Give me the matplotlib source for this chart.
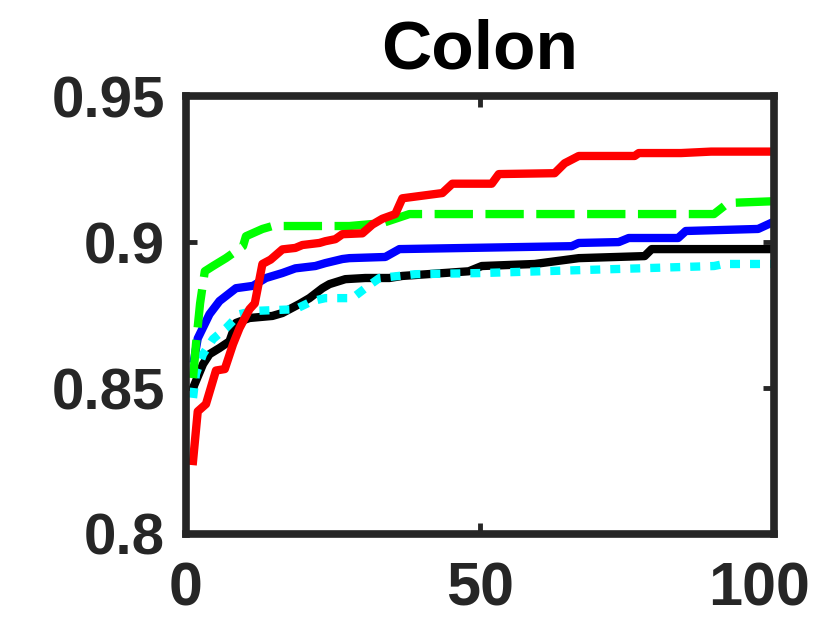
import matplotlib
matplotlib.use("Agg")
import matplotlib.pyplot as plt
import matplotlib.transforms as mtransforms

title = "Colon"
xticks = [0, 50, 100]
yticks = [0.8, 0.85, 0.9, 0.95]
ytick_labels = ["0.8", "0.85", "0.9", "0.95"]

red_x = [1.2, 2, 3.4, 5.1, 6.6, 8, 9.1, 10.8, 11.7, 13, 14.4, 16.4, 18.6, 19.8, 22.7, 23.7, 25.4, 26.6,
         30, 31.7, 33.4, 35.6, 36.8, 43.6, 45.3, 52, 53.2, 62.7, 64.4, 66.8, 76.3, 77, 84.2, 89.3, 100]
red_y = [0.825, 0.842, 0.8445, 0.856, 0.8565, 0.865, 0.8705, 0.877, 0.879, 0.8925, 0.894, 0.8975, 0.898,
         0.899, 0.8997, 0.9003, 0.901, 0.9027, 0.903, 0.906, 0.908, 0.9096, 0.915, 0.9168, 0.920, 0.920,
         0.9233, 0.9236, 0.927, 0.9295, 0.9295, 0.9305, 0.9305, 0.931, 0.931]

green_x = [1.2, 1.7, 2.4, 3.2, 4.6, 6.8, 9.7, 10.2, 13, 14.7, 27.8, 33.4, 38, 89.8, 92.2, 100]
green_y = [0.8534, 0.865, 0.879, 0.890, 0.8918, 0.8945, 0.8986, 0.902, 0.9045, 0.9055, 0.9055, 0.9065,
           0.9096, 0.9096, 0.9134, 0.914]

blue_x = [1.4, 2, 4, 5.7, 8.5, 11.4, 13.6, 16.4, 18.6, 22, 23.7, 26.6, 27.8, 33.9, 36.3, 65.6, 66.8,
          73.6, 75.3, 83.7, 85, 97.3, 100]
blue_y = [0.860, 0.867, 0.8753, 0.8798, 0.8842, 0.885, 0.8877, 0.8894, 0.891, 0.8918, 0.8928, 0.8942,
          0.8945, 0.8949, 0.8976, 0.8986, 0.8997, 0.900, 0.9014, 0.9014, 0.9038, 0.9045, 0.907]

black_x = [1.2, 2.9, 4, 5.7, 7.4, 8.5, 10.8, 14.7, 16.4, 19.3, 21, 23.2, 24.4, 27.1, 30.5, 34.6, 36.8,
           48.1, 50.3, 59.3, 66.8, 78, 79.2, 100]
black_y = [0.850, 0.8582, 0.8616, 0.8637, 0.866, 0.8723, 0.874, 0.8747, 0.8757, 0.8788, 0.8808, 0.8842,
           0.8856, 0.8873, 0.8877, 0.8877, 0.8884, 0.890, 0.8918, 0.8925, 0.8945, 0.8952, 0.8976, 0.8976]

cyan_x = [1.2, 1.7, 2.9, 4.6, 6.8, 9.1, 11.4, 18.6, 21.5, 23.7, 28.3, 30.5, 32.9, 39, 50.3, 77, 89.8,
          91.5, 100]
cyan_y = [0.8466, 0.8548, 0.8616, 0.8668, 0.8705, 0.8753, 0.8764, 0.877, 0.8798, 0.8808, 0.8808, 0.8842,
          0.8877, 0.889, 0.8894, 0.891, 0.8918, 0.8925, 0.8925]

plt.rcParams['font.family'] = ['Liberation Sans', 'DejaVu Sans']
fig = plt.figure(figsize=(8.4, 6.3), dpi=100)
ax = fig.add_axes([0.2214, 0.1524, 0.700, 0.695])

lw = 6
ax.plot(black_x, black_y, color='black', lw=lw, zorder=2)
ax.plot(blue_x, blue_y, color='blue', lw=lw, zorder=3)
ax.plot(cyan_x, cyan_y, color='cyan', lw=lw, linestyle=(0, (1.2, 1.2)), dash_capstyle='butt', zorder=4)
ax.plot(green_x, green_y, color='#00ff00', lw=lw, linestyle=(0, (4.6, 1.5)), dash_capstyle='butt', zorder=5)
ax.plot(red_x, red_y, color='red', lw=lw, zorder=6)

ax.set_xlim(0, 100)
ax.set_ylim(0.8, 0.95)
ax.set_xticks(xticks)
ax.set_xticklabels([str(t) for t in xticks])
ax.set_yticks(yticks)
ax.set_yticklabels(ytick_labels)

for s in ax.spines.values():
    s.set_linewidth(5.5)
    s.set_color('#262626')
    s.set_zorder(10)
ax.tick_params(direction='in', length=8, width=3.5, colors='#262626', labelsize=42,
               top=True, right=True)
ax.tick_params(axis='x', pad=20, labelsize=44)
ax.tick_params(axis='y', pad=15)
for lab in ax.get_xticklabels() + ax.get_yticklabels():
    lab.set_fontweight('bold')
last = ax.get_xticklabels()[-1]
last.set_transform(last.get_transform() + mtransforms.ScaledTranslation(-0.15, 0, fig.dpi_scale_trans))
ax.set_title(title, fontsize=50, fontweight='bold', pad=20)

fig.savefig("out.png", dpi=100)
